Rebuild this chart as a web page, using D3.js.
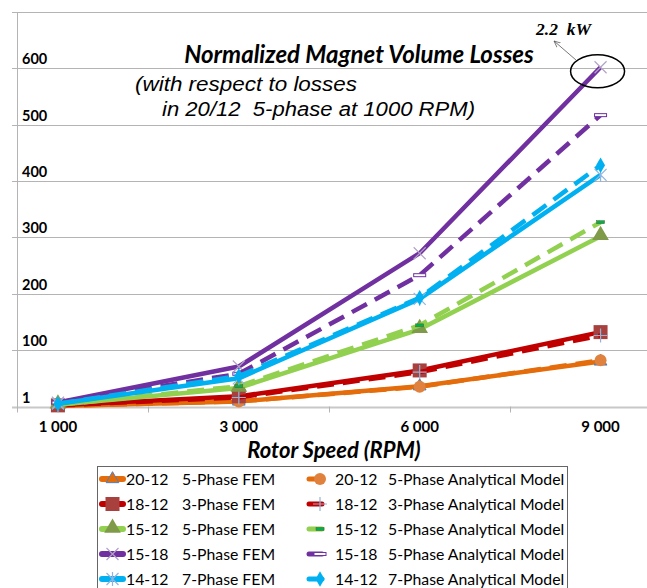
<!DOCTYPE html>
<html>
<head>
<meta charset="utf-8">
<script src="https://cdn.jsdelivr.net/npm/d3@7"></script>
<style>
  body { margin: 0; background: #fff; }
  svg { display: block; }
  .calibri { font-family: Lato, "Open Sans", sans-serif; }
</style>
</head>
<body>
<script>
const speeds = [1000, 3000, 6000, 9000];
const xLabels = ['1 000', '3 000', '6 000', '9 000'];
const yTicks = [0, 100, 200, 300, 400, 500, 600, 700];
const yLabels = ['1', '100', '200', '300', '400', '500', '600', ''];

// normalized losses
const fem2012 = [1, 9, 36, 80];
const ana2012 = [1, 9, 35, 82];
const fem1812 = [2, 18, 64, 132];
const ana1812 = [2, 16, 61, 126];
const fem1512 = [3, 33, 137, 302];
const ana1512 = [3, 36, 144, 327];
const fem1518 = [7, 71, 272, 602];
const ana1518 = [7, 58, 233, 517];
const fem1412 = [5, 50, 191, 411];
const ana1412 = [5, 54, 193, 428];

const seriesNames = ['20-12', '18-12', '15-12', '15-18', '14-12'];
const phases = ['5-Phase', '3-Phase', '5-Phase', '5-Phase', '7-Phase'];
const lineColors = ['#E46C0A', '#C00000', '#92D050', '#7030A0', '#00B0F0'];
const femMarkers = ['triSmall', 'square', 'triangle', 'cross', 'asterisk'];
const anaMarkers = ['circle', 'plus', 'dash', 'equal', 'diamond'];
const femValues = [fem2012, fem1812, fem1512, fem1518, fem1412];
const anaValues = [ana2012, ana1812, ana1512, ana1518, ana1412];

const width = 647, height = 588;

const svg = d3.select('body').append('svg')
  .attr('width', width)
  .attr('height', height);

const x = d3.scaleBand()
  .domain(speeds)
  .range([-32.5, 691]);

const y = d3.scaleLinear()
  .domain([0, 700])
  .range([406.5, 12]);

const axisLeft = 17;

// gridlines
svg.append('g')
  .selectAll('line')
  .data(yTicks)
  .enter().append('line')
  .attr('x1', axisLeft - 5)
  .attr('x2', width)
  .attr('y1', d => Math.round(y(d)) + 0.5)
  .attr('y2', d => Math.round(y(d)) + 0.5)
  .attr('stroke', d => d === 0 ? '#c8c8c8' : '#b4b4b4')
  .attr('stroke-width', d => d === 0 ? 2 : 1);

svg.append('line')
  .attr('x1', axisLeft + 0.5).attr('x2', axisLeft + 0.5)
  .attr('y1', y(700)).attr('y2', y(0) + 6)
  .attr('stroke', '#b4b4b4');

// category tick marks between bands
svg.append('g')
  .selectAll('line')
  .data(speeds.slice(1))
  .enter().append('line')
  .attr('x1', d => Math.round(x(d)) + 0.5)
  .attr('x2', d => Math.round(x(d)) + 0.5)
  .attr('y1', y(0))
  .attr('y2', y(0) + 6)
  .attr('stroke', '#b4b4b4');

svg.append('g')
  .selectAll('text')
  .data(yTicks)
  .enter().append('text')
  .attr('class', 'calibri')
  .attr('x', 22)
  .attr('y', d => y(d) - 4)
  .style('font-size', '14.5px')
  .style('font-weight', 'bold')
  .text((d, i) => yLabels[i]);

svg.append('g')
  .selectAll('text')
  .data(speeds)
  .enter().append('text')
  .attr('class', 'calibri')
  .attr('x', d => x(d) + x.bandwidth() / 2)
  .attr('y', 432)
  .style('font-size', '15px')
  .style('font-weight', 'bold')
  .style('text-anchor', 'middle')
  .text((d, i) => xLabels[i]);

svg.append('text')
  .attr('class', 'calibri')
  .attr('x', 334)
  .attr('y', 458)
  .style('font-size', '22px')
  .style('font-weight', 'bold')
  .style('font-style', 'italic')
  .style('text-anchor', 'middle')
  .text('Rotor Speed (RPM)');

// titles
svg.append('text')
  .attr('class', 'calibri')
  .attr('x', 359)
  .attr('y', 63)
  .style('font-size', '24px')
  .style('font-weight', 'bold')
  .style('font-style', 'italic')
  .style('text-anchor', 'middle')
  .text('Normalized Magnet Volume Losses');

svg.append('text')
  .attr('x', 135)
  .attr('y', 91)
  .attr('textLength', 222)
  .attr('lengthAdjust', 'spacingAndGlyphs')
  .style('font-family', '"Liberation Sans", Arial, sans-serif')
  .style('font-size', '20px')
  .style('font-style', 'italic')
  .text('(with respect to losses');

svg.append('text')
  .attr('x', 162)
  .attr('y', 116)
  .attr('textLength', 313)
  .attr('lengthAdjust', 'spacingAndGlyphs')
  .style('font-family', '"Liberation Sans", Arial, sans-serif')
  .style('font-size', '20px')
  .style('font-style', 'italic')
  .style('white-space', 'pre')
  .text('in 20/12  5-phase at 1000 RPM)');

const line = d3.line()
  .x((d, i) => x(speeds[i]) + x.bandwidth() / 2)
  .y(d => y(d));

function drawMarker(g, type, cx, cy, scale) {
  const s = scale || 1;
  const m = g.append('g').attr('transform', `translate(${cx},${cy}) scale(${s})`);
  if (type === 'triSmall') {
    m.append('path').attr('d', d3.symbol(d3.symbolTriangle, 70)())
      .attr('fill', '#E46C0A').attr('stroke', '#4F81BD').attr('stroke-width', 1);
  } else if (type === 'square') {
    m.append('rect').attr('x', -7).attr('y', -7).attr('width', 14).attr('height', 14)
      .attr('fill', '#A8413E');
  } else if (type === 'triangle') {
    m.append('path').attr('d', d3.symbol(d3.symbolTriangle, 120)()).attr('transform', 'translate(0,-1)')
      .attr('fill', '#7F9A48');
  } else if (type === 'cross') {
    m.append('path').attr('d', 'M-6,-6L6,6M-6,6L6,-6')
      .attr('stroke', '#B3A2C7').attr('stroke-width', 1.2);
  } else if (type === 'asterisk') {
    m.append('path').attr('d', 'M-6,-6L6,6M-6,6L6,-6M0,-7L0,7')
      .attr('stroke', '#8DB4E2').attr('stroke-width', 1.2);
  } else if (type === 'circle') {
    m.append('circle').attr('r', 6).attr('fill', '#E0823D');
  } else if (type === 'plus') {
    m.append('path').attr('d', 'M-7,0L7,0M0,-7L0,7')
      .attr('stroke', '#95B3D7').attr('stroke-width', 1.2);
  } else if (type === 'dash') {
    m.append('rect').attr('x', -4).attr('y', -1.5).attr('width', 8).attr('height', 3)
      .attr('fill', '#00B050').attr('stroke', '#4F6228').attr('stroke-width', 0.5);
  } else if (type === 'equal') {
    m.append('rect').attr('x', -6).attr('y', -1.5).attr('width', 12).attr('height', 3)
      .attr('fill', '#fff').attr('stroke', '#7030A0').attr('stroke-width', 1);
  } else if (type === 'diamond') {
    m.append('path').attr('d', d3.symbol(d3.symbolDiamond, 70)())
      .attr('fill', '#00B0F0');
  }
}

const plot = svg.append('g');
seriesNames.forEach((name, i) => {
  [[femValues[i], false, femMarkers[i]], [anaValues[i], true, anaMarkers[i]]].forEach(([vals, dashed, mk]) => {
    const g = plot.append('g');
    g.append('path')
      .attr('d', line(vals))
      .attr('fill', 'none')
      .attr('stroke', lineColors[i])
      .attr('stroke-width', 4.5)
      .attr('stroke-linejoin', 'round')
      .attr('stroke-dasharray', dashed ? '17,9' : null);
    vals.forEach((v, j) => {
      drawMarker(g, mk, x(speeds[j]) + x.bandwidth() / 2, y(v));
    });
  });
});

// 2.2 kW callout
svg.append('defs').append('marker')
  .attr('id', 'arrow')
  .attr('viewBox', '0 0 10 10')
  .attr('refX', 9).attr('refY', 5)
  .attr('markerWidth', 9).attr('markerHeight', 9)
  .attr('orient', 'auto')
  .append('path')
  .attr('d', 'M0,1L9,5L0,9')
  .attr('fill', 'none')
  .attr('stroke', '#555')
  .attr('stroke-width', 1);

const peak = [x(9000) + x.bandwidth() / 2, y(fem1518[3])];
svg.append('ellipse')
  .attr('cx', peak[0] - 3).attr('cy', peak[1] + 4)
  .attr('rx', 27).attr('ry', 16.5)
  .attr('fill', 'none')
  .attr('stroke', '#000')
  .attr('stroke-width', 1.5);

svg.append('line')
  .attr('x1', 576).attr('y1', 60)
  .attr('x2', 554).attr('y2', 41)
  .attr('stroke', '#555')
  .attr('stroke-width', 0.8)
  .attr('marker-end', 'url(#arrow)');

svg.append('text')
  .attr('x', 536)
  .attr('y', 35)
  .style('font-family', '"Liberation Serif", "Times New Roman", serif')
  .style('font-size', '17.5px')
  .style('font-weight', 'bold')
  .style('font-style', 'italic')
  .style('white-space', 'pre')
  .text('2.2  kW');

// legend
const legend = svg.append('g');
legend.append('rect')
  .attr('x', 97.5).attr('y', 466.5)
  .attr('width', 470).attr('height', 140)
  .attr('fill', '#fff')
  .attr('stroke', '#666');

const rowY = i => 479 + i * 25;
seriesNames.forEach((name, i) => {
  const cy = rowY(i);
  const fem = legend.append('g');
  fem.append('line')
    .attr('x1', 102).attr('x2', 123).attr('y1', cy).attr('y2', cy)
    .attr('stroke', lineColors[i]).attr('stroke-width', 6).attr('stroke-linecap', 'round');
  drawMarker(fem, femMarkers[i], 112.5, cy);
  fem.append('text').attr('class', 'calibri')
    .attr('x', 126).attr('y', cy + 5.5).style('font-size', '15.8px').text(name);
  fem.append('text').attr('class', 'calibri')
    .attr('x', 182).attr('y', cy + 5.5).style('font-size', '15.8px').text(phases[i] + ' FEM');

  const ana = legend.append('g');
  ana.append('line')
    .attr('x1', 309).attr('x2', 333).attr('y1', cy).attr('y2', cy)
    .attr('stroke', lineColors[i]).attr('stroke-width', 5).attr('stroke-linecap', 'round')
    .attr('stroke-dasharray', '13,40');
  drawMarker(ana, anaMarkers[i], 320, cy);
  ana.append('text').attr('class', 'calibri')
    .attr('x', 335).attr('y', cy + 5.5).style('font-size', '15.8px').text(name);
  ana.append('text').attr('class', 'calibri')
    .attr('x', 388).attr('y', cy + 5.5).style('font-size', '15.8px').text(phases[i] + ' Analytical Model');
});
</script>
</body>
</html>
